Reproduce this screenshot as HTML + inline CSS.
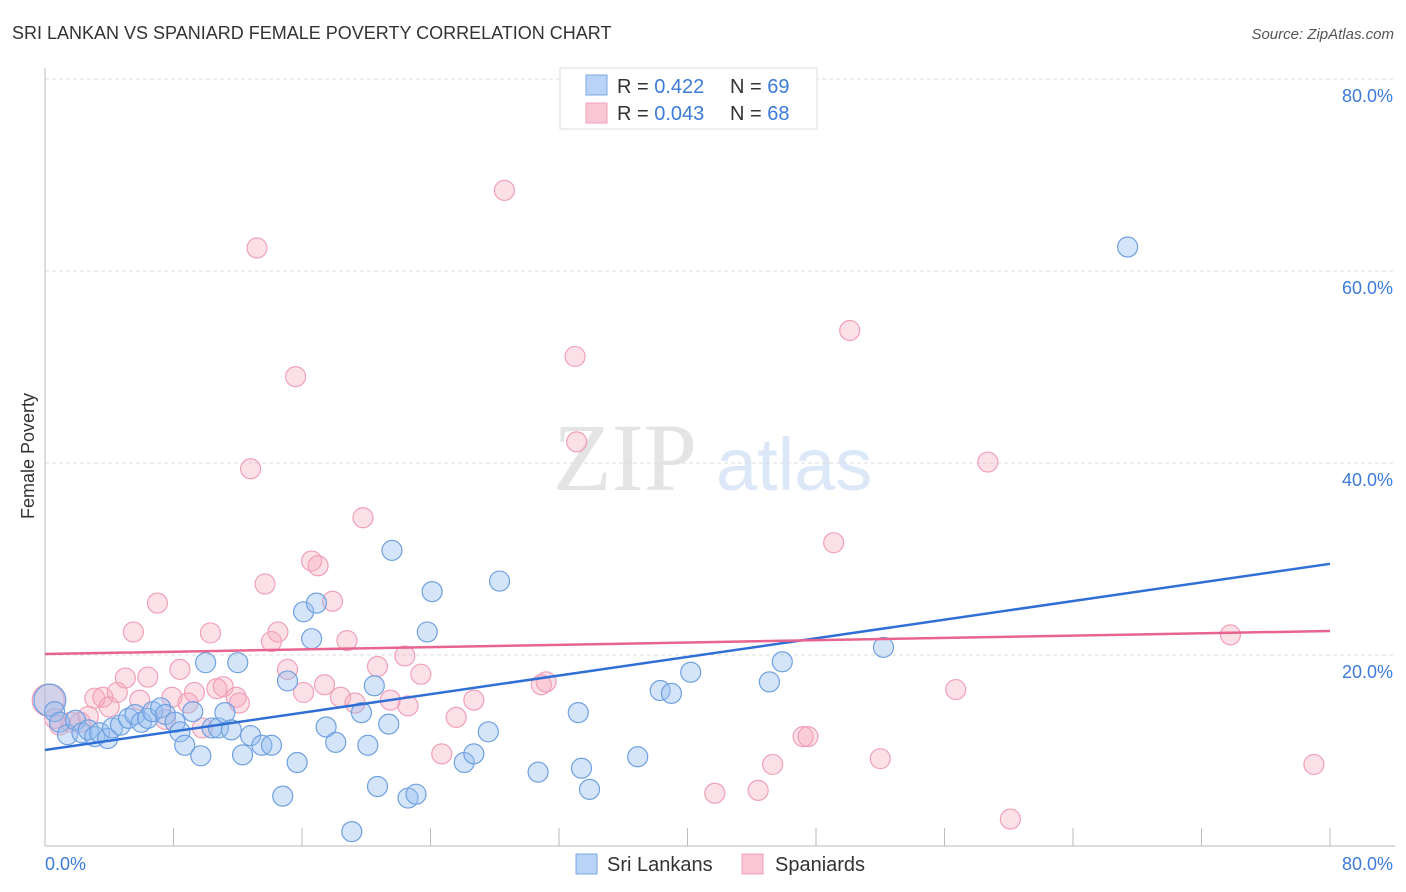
<!DOCTYPE html>
<html><head><meta charset="utf-8">
<style>
html,body{margin:0;padding:0;background:#fff;}
body{width:1406px;height:892px;overflow:hidden;font-family:"Liberation Sans",sans-serif;}
</style></head>
<body>
<svg id="chart" width="1406" height="892" xmlns="http://www.w3.org/2000/svg" style="position:absolute;left:0;top:0">
<text x="12" y="39" font-size="18" fill="#333">SRI LANKAN VS SPANIARD FEMALE POVERTY CORRELATION CHART</text>
<text x="1394" y="39" font-size="15" font-style="italic" fill="#555" text-anchor="end">Source: ZipAtlas.com</text>
<g>
<text x="553" y="490" font-family="Liberation Serif,serif" font-size="96" fill="#e4e4e4">ZIP</text>
<text x="716" y="490" font-size="74" fill="#dce8f7">atlas</text>
</g>
<text transform="translate(34,456) rotate(-90)" font-size="18" fill="#333" text-anchor="middle">Female Poverty</text>
<g id="grid"></g>
<g id="axes"></g>
<g id="pts"></g>
<g id="trend"></g>
<g>
<rect x="560" y="68" width="257" height="61" fill="#fff" stroke="#ddd"/>
<rect x="586" y="75" width="21" height="20" fill="#b8d3f6" stroke="#7aa8e6"/>
<rect x="586" y="103" width="21" height="20" fill="#f9c6d6" stroke="#f0a0b8"/>
<text x="617" y="93" font-size="20" fill="#333">R = <tspan fill="#3d7bd9">0.422</tspan><tspan x="730">N = </tspan><tspan fill="#3d7bd9">69</tspan></text>
<text x="617" y="120" font-size="20" fill="#333">R = <tspan fill="#3d7bd9">0.043</tspan><tspan x="730">N = </tspan><tspan fill="#3d7bd9">68</tspan></text>
</g>
<g>
<rect x="576" y="854" width="21" height="20" fill="#b8d3f6" stroke="#7aa8e6"/>
<text x="607" y="871" font-size="20" fill="#333">Sri Lankans</text>
<rect x="742" y="854" width="21" height="20" fill="#f9c6d6" stroke="#f0a0b8"/>
<text x="775" y="871" font-size="20" fill="#333">Spaniards</text>
</g>
</svg>
<script>
const yTicks=[20,40,60,80];
const yTickLabels=["20.0%","40.0%","60.0%","80.0%"];
const xTicks=[0,10,20,30,40,50,60,70,80];
const xTickEnds=["0.0%","80.0%"];
const sriX=[0.3,0.6,0.9,1.4,1.9,2.3,2.7,3.1,3.4,3.9,4.2,4.7,5.2,5.6,6.0,6.4,6.7,7.2,7.5,8.1,8.4,8.7,9.2,9.7,10.0,10.4,10.8,11.2,11.6,12.0,12.3,12.8,13.5,14.1,14.8,15.1,15.7,16.1,16.6,16.9,17.5,18.1,19.7,20.1,19.1,20.5,20.7,21.4,21.6,22.6,23.1,23.8,24.1,26.1,26.7,27.6,28.3,30.7,33.2,33.4,33.9,36.9,38.3,39.0,40.2,45.1,45.9,52.2,67.4];
const sriY=[15.3,14.1,13.0,11.7,13.2,11.9,12.2,11.5,11.9,11.3,12.4,12.7,13.4,13.8,13.0,13.4,14.1,14.5,13.8,13.0,12.0,10.6,14.1,9.5,19.2,12.4,12.4,14.0,12.2,19.2,9.6,11.6,10.6,10.6,5.3,17.3,8.8,24.5,21.7,25.4,12.5,10.9,14.0,10.6,1.6,16.8,6.3,12.8,30.9,5.1,5.5,22.4,26.6,8.8,9.7,12.0,27.7,7.8,14.0,8.2,6.0,9.4,16.3,16.0,18.2,17.2,19.3,20.8,62.5];
const spaX=[0.2,0.6,0.9,1.6,2.2,2.7,3.1,3.6,4.0,4.5,5.0,5.9,6.4,7.0,5.5,7.5,7.9,8.4,8.9,9.3,9.8,10.3,10.7,11.1,11.9,12.1,12.8,13.2,13.7,14.1,14.5,15.1,15.6,16.1,16.6,17.0,17.4,17.9,18.4,18.8,19.3,19.8,20.7,21.5,22.4,22.6,23.4,24.7,25.6,26.7,28.6,30.9,31.2,33.0,33.1,41.7,44.4,45.3,47.2,47.5,49.1,50.1,52.0,56.7,58.7,60.1,73.8,79.0];
const spaY=[15.3,13.4,12.7,13.0,13.0,13.6,15.5,15.6,14.6,16.1,17.6,15.3,17.7,25.4,22.4,13.3,15.6,18.5,15.0,16.1,12.4,22.3,16.5,16.7,15.6,15.0,39.4,62.4,27.4,21.4,22.4,18.5,49.0,16.1,29.8,29.3,16.9,25.6,15.6,21.5,15.0,34.3,18.8,15.3,19.9,14.7,18.0,9.7,13.5,15.3,68.4,16.9,17.2,51.1,42.2,5.6,5.9,8.6,11.5,11.5,31.7,53.8,9.2,16.4,40.1,2.9,22.1,8.6];
const sriTrend=[10.1,29.5];
const spaTrend=[20.1,22.5];
const NS="http://www.w3.org/2000/svg";
const X=v=>45+v*(1285/80);
const Y=v=>847-v*9.6;
function mk(tag,attrs,parent){const e=document.createElementNS(NS,tag);for(const k in attrs)e.setAttribute(k,attrs[k]);document.getElementById(parent).appendChild(e);return e;}
yTicks.forEach((t,i)=>{
 const l=mk('line',{x1:45,x2:1395,y1:Y(t),y2:Y(t),stroke:'#ddd','stroke-dasharray':'4,3'},'grid');
 
 
 const tx=mk('text',{x:1393,y:Y(t)+23,'font-size':18,fill:'#3d7bd9','text-anchor':'end'},'grid');
 tx.textContent=yTickLabels[i];
 
 
});
const ax=mk('line',{x1:45,x2:1395,y1:846,y2:846,stroke:'#bbb'},'axes');


const ay=mk('line',{x1:45,x2:45,y1:68,y2:846,stroke:'#bbb'},'axes');


for(let v=0;v<=80;v+=8){
 const t=mk('line',{x1:X(v),x2:X(v),y1:828,y2:846,stroke:'#bbb'},'axes');
 
 
}
const x0=mk('text',{x:45,y:870,'font-size':18,fill:'#3d7bd9'},'axes');x0.textContent=xTickEnds[0];


const x1=mk('text',{x:1393,y:870,'font-size':18,fill:'#3d7bd9','text-anchor':'end'},'axes');x1.textContent=xTickEnds[1];


function pts(xs,ys,fill,stroke,name){
 xs.forEach((x,i)=>{
  const c=mk('circle',{cx:X(x),cy:Y(ys[i]),r:i===0?16:10,fill:fill,stroke:stroke,'stroke-width':1.2},'pts');
  
  
 });
}
pts(spaX,spaY,'rgba(245,165,190,0.35)','#f0a0b8','spaniard-point');
pts(sriX,sriY,'rgba(150,190,240,0.4)','#6fa0e0','sri-lankan-point');
const t1=mk('line',{x1:X(0),y1:Y(sriTrend[0]),x2:X(80),y2:Y(sriTrend[1]),stroke:'#2f6fd6','stroke-width':2.5},'trend');


const t2=mk('line',{x1:X(0),y1:Y(spaTrend[0]),x2:X(80),y2:Y(spaTrend[1]),stroke:'#e8648f','stroke-width':2.5},'trend');


</script>
</body></html>
